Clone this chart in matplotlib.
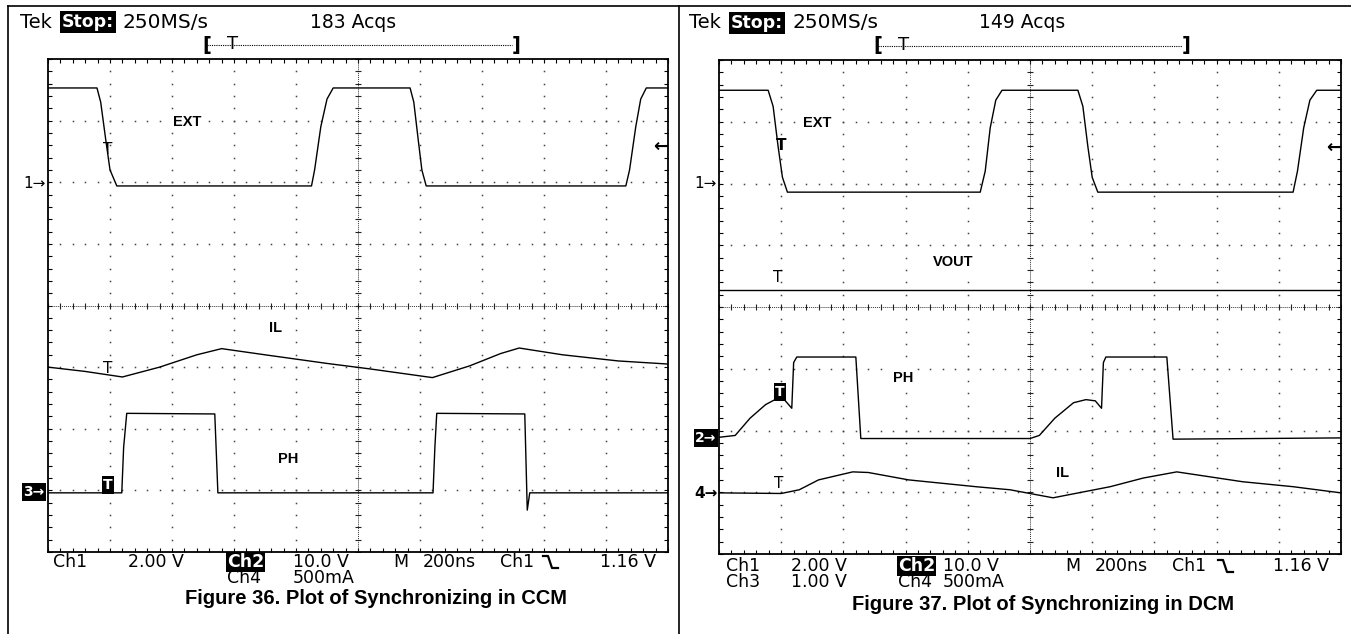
import numpy as np
import matplotlib
matplotlib.use('Agg')
import matplotlib.pyplot as plt
from matplotlib.lines import Line2D

# Time in divisions (200 ns/div), level in divisions from the bottom of the screen
# Figure 36 (CCM)
ccm_ext_t = [0, 0.79, 0.85, 0.93, 1.0, 1.11, 4.25, 4.3, 4.4, 4.5, 4.6, 5.84, 5.9, 5.97, 6.03, 6.1,
             9.32, 9.38, 9.48, 9.56, 9.65, 10]
ccm_ext_v = [7.53, 7.53, 7.3, 6.7, 6.2, 5.94, 5.94, 6.2, 6.9, 7.35, 7.53, 7.53, 7.3, 6.7, 6.2, 5.94,
             5.94, 6.2, 6.9, 7.35, 7.53, 7.53]
ccm_il_t = [0, 0.6, 1.2, 1.8, 2.4, 2.8, 3.5, 4.5, 5.2, 6.2, 6.8, 7.3, 7.6, 8.3, 9.2, 10]
ccm_il_v = [3.0, 2.93, 2.84, 3.0, 3.2, 3.3, 3.2, 3.06, 2.97, 2.83, 3.02, 3.22, 3.31, 3.2, 3.1, 3.05]
ccm_ph_t = [0, 1.19, 1.22, 1.27, 2.69, 2.74, 6.21, 6.24, 6.27, 7.69, 7.73, 7.77, 10]
ccm_ph_v = [0.96, 0.96, 1.7, 2.25, 2.24, 0.96, 0.96, 1.7, 2.25, 2.24, 0.68, 0.96, 0.96]

# Figure 37 (DCM)
dcm_ext_t = [0, 0.79, 0.87, 0.95, 1.02, 1.1, 4.2, 4.28, 4.36, 4.45, 4.55, 5.77, 5.85, 5.93, 6.0, 6.09,
             9.23, 9.3, 9.4, 9.5, 9.61, 10]
dcm_ext_v = [7.51, 7.51, 7.25, 6.6, 6.1, 5.86, 5.86, 6.2, 6.9, 7.35, 7.51, 7.51, 7.25, 6.6, 6.1, 5.86,
             5.86, 6.2, 6.9, 7.35, 7.51, 7.51]
dcm_vout_t = [0, 10]
dcm_vout_v = [4.28, 4.28]
dcm_ph_t = [0, 0.26, 0.5, 0.75, 0.9, 1.05, 1.17, 1.2, 1.25, 2.2, 2.28, 5.0, 5.15, 5.4, 5.7, 5.9, 6.05,
            6.15, 6.18, 6.22, 7.2, 7.3, 10]
dcm_ph_v = [1.89, 1.92, 2.2, 2.42, 2.5, 2.5, 2.36, 3.1, 3.19, 3.19, 1.87, 1.87, 1.92, 2.2, 2.45, 2.5, 2.48,
            2.36, 3.1, 3.19, 3.19, 1.86, 1.88]
dcm_il_t = [0, 1.0, 1.29, 1.6, 2.15, 2.4, 3.05, 4.13, 4.68, 5.37, 6.29, 6.82, 7.36, 7.89, 8.42, 9.23, 10]
dcm_il_v = [0.99, 0.98, 1.04, 1.2, 1.33, 1.32, 1.2, 1.09, 1.04, 0.91, 1.09, 1.23, 1.33, 1.25, 1.17, 1.09, 0.99]

W, H = 1351, 634
fig = plt.figure(figsize=(W / 100, H / 100), dpi=100)
fig.patch.set_facecolor('white')

SCOPE = 'DejaVu Sans'
CAP = 'Liberation Sans'


def put(x, y, s, **kw):
    kw.setdefault('family', SCOPE)
    kw.setdefault('va', 'center')
    return fig.text(x / W, 1 - y / H, s, **kw)


def hline(x0, x1, y, **kw):
    fig.add_artist(Line2D([x0 / W, x1 / W], [1 - y / H, 1 - y / H], color='black', **kw))


def vline(x, y0, y1, **kw):
    fig.add_artist(Line2D([x / W, x / W], [1 - y0 / H, 1 - y1 / H], color='black', **kw))


def scope_axes(left, top, right, bottom):
    ax = fig.add_axes([left / W, 1 - bottom / H, (right - left) / W, (bottom - top) / H])
    ax.set_xlim(0, 10)
    ax.set_ylim(0, 8)
    ax.set_xticks(np.arange(0, 10.01, 0.2))
    ax.set_yticks(np.arange(0, 8.01, 0.2))
    ax.tick_params(direction='in', length=3, width=0.8, top=True, right=True,
                   labelbottom=False, labelleft=False)
    for sp in ax.spines.values():
        sp.set_linewidth(1.3)
    fine_y = np.arange(0, 8.01, 0.2)
    fine_x = np.arange(0, 10.01, 0.2)
    for xi in [1, 2, 3, 4, 6, 7, 8, 9]:
        ax.plot([xi] * len(fine_y), fine_y, ls='none', marker='s', ms=1.1, color='#444', mew=0)
    for yi in [1, 2, 3, 5, 6, 7]:
        ax.plot(fine_x, [yi] * len(fine_x), ls='none', marker='s', ms=1.1, color='#444', mew=0)
    # centre cross with minor ticks
    ax.axhline(4, color='#333', lw=0.7, ls=(0, (1, 1)))
    ax.axvline(5, color='#333', lw=0.7, ls=(0, (1, 1)))
    ax.plot(fine_x, [4] * len(fine_x), ls='none', marker='|', ms=5, mew=0.8, color='#222')
    ax.plot([5] * len(fine_y), fine_y, ls='none', marker='_', ms=5, mew=0.8, color='#222')
    return ax


ax1 = scope_axes(48, 59, 668, 552)
ax1.plot(ccm_ext_t, ccm_ext_v, color='black', lw=1)
ax1.plot(ccm_il_t, ccm_il_v, color='black', lw=1)
ax1.plot(ccm_ph_t, ccm_ph_v, color='black', lw=1)

ax2 = scope_axes(719, 60, 1341, 554)
ax2.plot(dcm_ext_t, dcm_ext_v, color='black', lw=1)
ax2.plot(dcm_vout_t, dcm_vout_v, color='black', lw=1)
ax2.plot(dcm_ph_t, dcm_ph_v, color='black', lw=1)
ax2.plot(dcm_il_t, dcm_il_v, color='black', lw=1)

# page frame
hline(8, W, 6, lw=1.2)
vline(8, 6, H, lw=1.2)
vline(679, 6, H, lw=1.2)

box = dict(facecolor='black', edgecolor='none', pad=1.2)
white = dict(facecolor='white', edgecolor='none', pad=2)

# headers
for x0, y0, acq, bx in [(20, 22, '183 Acqs', (202, 233, 512)), (689, 23, '149 Acqs', (873, 904, 1182))]:
    put(x0, y0, 'Tek', size=14)
    put(x0 + 42, y0, 'Stop:', size=12.5, weight='bold', color='white', bbox=box)
    put(x0 + 103, y0, '250MS/s', size=14.5)
    put(x0 + 290, y0, acq, size=13.5)
    yb = y0 + 23
    put(bx[0], yb, '[', size=14, weight='bold')
    hline(bx[0] + 5, bx[2], yb, lw=0.8, ls=(0, (1, 1)))
    put(bx[1], yb - 1, 'T', size=13, ha='center')
    put(bx[2], yb, ']', size=14, weight='bold')

# bottom readouts
for y0, c, ch3 in [(562, [53, 128, 227, 293, 393, 423, 500, 543, 600], False),
                   (566, [726, 791, 898, 943, 1065, 1095, 1172, 1218, 1273], True)]:
    put(c[0], y0, 'Ch1', size=12.5)
    put(c[1], y0, '2.00 V', size=12.5)
    put(c[2], y0, 'Ch2', size=12.5, color='white', weight='bold',
        bbox=dict(facecolor='black', edgecolor='none', pad=0.5))
    put(c[3], y0, '10.0 V', size=12.5)
    put(c[4], y0, 'M', size=12.5)
    put(c[5], y0, '200ns', size=12.5)
    put(c[6], y0, 'Ch1', size=12.5)
    e = c[7]
    fig.add_artist(Line2D([e / W, (e + 5) / W, (e + 9) / W, (e + 15) / W],
                          [1 - (y0 - 6) / H, 1 - (y0 - 6) / H, 1 - (y0 + 6) / H, 1 - (y0 + 6) / H],
                          color='black', lw=1.6))
    put(c[8], y0, '1.16 V', size=12.5)
    if ch3:
        put(c[0], y0 + 16, 'Ch3', size=12.5)
        put(c[1], y0 + 16, '1.00 V', size=12.5)
    put(c[2], y0 + 16, 'Ch4', size=12.5)
    put(c[3], y0 + 16, '500mA', size=12.5)

# captions
put(376, 599, 'Figure 36. Plot of Synchronizing in CCM', family=CAP, size=14.5, weight='bold', ha='center')
put(1043, 604, 'Figure 37. Plot of Synchronizing in DCM', family=CAP, size=14.5, weight='bold', ha='center')

# trace labels
for x, y, s in [(187, 122, 'EXT'), (276, 328, 'IL'), (288, 459, 'PH'),
                (817, 123, 'EXT'), (953, 262, 'VOUT'), (903, 378, 'PH'), (1063, 473, 'IL')]:
    put(x, y, s, family=CAP, size=10.5, weight='bold', ha='center', bbox=white)

# channel markers
put(46, 183, '1\u2192', size=11, ha='right')
put(34, 492, '3\u2192', size=10, ha='center', color='white', weight='bold', bbox=box)
put(668, 147, '\u2190', size=13, ha='right', weight='bold')
put(717, 183, '1\u2192', size=11, ha='right')
put(706, 438, '2\u2192', size=10, ha='center', color='white', weight='bold', bbox=box)
put(718, 493, '4\u2192', size=11, ha='right', weight='bold')
put(1341, 148, '\u2190', size=13, ha='right', weight='bold')

# trigger marks on traces
put(108, 150, 'T', size=11, ha='center')
put(108, 368, 'T', size=11, ha='center')
put(108, 485, 'T', size=10, ha='center', color='white', weight='bold', bbox=box)
put(781, 145, 'T', size=11, ha='center', weight='bold')
put(778, 278, 'T', size=11, ha='center')
put(780, 392, 'T', size=10, ha='center', color='white', weight='bold', bbox=box)
put(779, 484, 'T', size=11, ha='center')

fig.savefig('out.png', dpi=100, facecolor='white')
